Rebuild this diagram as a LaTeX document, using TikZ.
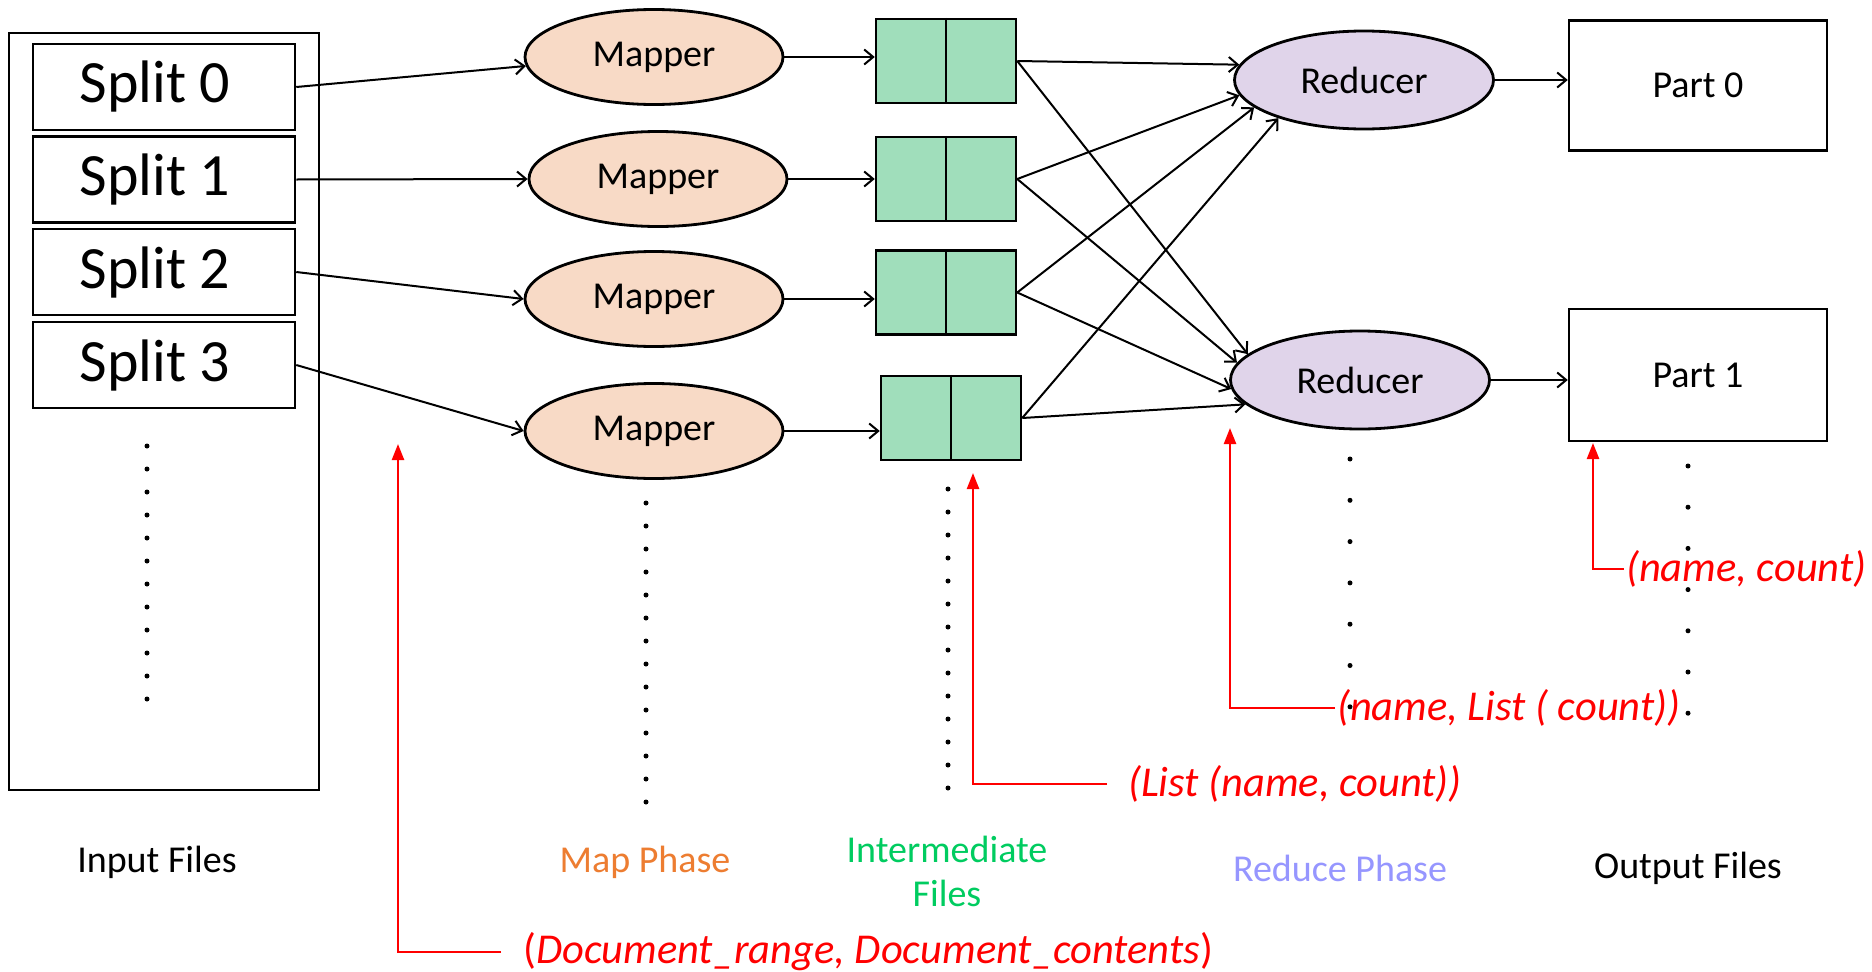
\documentclass[tikz,border=0pt]{standalone}
\usepackage{fontspec}
\setmainfont{Carlito}
\usetikzlibrary{shapes.geometric,arrows.meta,positioning}
\definecolor{mapperfill}{RGB}{248,218,198}
\definecolor{interfill}{RGB}{160,222,187}
\definecolor{reducerfill}{RGB}{224,212,234}
\definecolor{mapcolor}{RGB}{237,125,49}
\definecolor{intercolor}{RGB}{0,204,96}
\definecolor{reducecolor}{RGB}{150,150,255}
\definecolor{tracered}{RGB}{255,0,0}
\newcommand*{\kvinfo}[5][2]{%
  \node [tracetext, inner xsep=#1pt] (#2) at (#3) {#5};
  \draw [tracearrow] (#2.west) -| (#4);
}

\begin{document}
\begin{tikzpicture}[x=1pt,y=-1pt,
    every node/.style = {font=\fontsize{38}{44}\selectfont},
    splitbox/.style   = {draw, line width=2.5pt, minimum width=262pt, minimum height=86pt, inner sep=0pt, font=\fontsize{60}{70}\selectfont},
    mapper/.style     = {ellipse, draw, line width=2.8pt, fill=mapperfill, minimum width=258pt, minimum height=95pt, inner sep=0pt},
    reducer/.style    = {mapper, fill=reducerfill, minimum width=259pt, minimum height=98pt},
    interbox/.style   = {draw, line width=2.5pt, fill=interfill, minimum width=140pt, minimum height=84pt, inner sep=0pt},
    partbox/.style    = {draw, line width=2.5pt, minimum width=258pt, minimum height=130pt, inner sep=0pt},
    flow/.style       = {-{Straight Barb[length=9pt,width=15pt]}, line width=2pt},
    tracetext/.style  = {anchor=west, text=tracered, inner ysep=0pt, font=\fontsize{42.5}{50}\selectfont\itshape},
    tracearrow/.style = {-{Triangle[length=16pt,width=12pt]}, draw=tracered, line width=2.4pt},
  ]
  \fill[white] (0,0) rectangle (1872,972);
  \useasboundingbox (0,0) rectangle (1872,972);

  \node [draw, line width=2.5pt, minimum width=310pt, minimum height=757pt, inner sep=0pt] (inputs) at (164,411.5) {};
  \foreach \i/\y in {0/87,1/179.5,2/272,3/365}
    \node [splitbox] (s\i) at (164,\y) {Split \i\hspace*{18pt}};

  \foreach \i/\x/\y in {0/654/57,1/658/179,2/654/299,3/654/431}
    \node [mapper] (m\i) at (\x,\y) {Mapper};

  \foreach \i/\x/\y in {0/946/61,1/946/179,2/946/292.5,3/951/418}{
    \node [interbox] (i\i) at (\x,\y) {};
    \draw [line width=2.5pt] (i\i.north) -- (i\i.south);
  }

  \node [reducer] (r0) at (1364,80) {Reducer};
  \node [reducer] (r1) at (1360,380) {Reducer};
  \node [partbox] (p0) at (1698,85.5) {Part 0};
  \node [partbox, minimum height=132pt] (p1) at (1698,375) {Part 1};

  \foreach \i/\a in {0/184,1/180,2/180,3/180}{
    \draw [flow] (s\i.east) -- (m\i.\a);
    \draw [flow] (m\i.east) -- (m\i.east -| i\i.west);
  }
  \foreach \i/\a/\b in {0/173/167,1/187/172,2/194/184,3/204/192}{
    \draw [flow] (i\i.east) -- (r0.\a);
    \draw [flow] (i\i.east) -- (r1.\b);
  }
  \foreach \i in {0,1}
    \draw [flow] (r\i.east) -- (r\i.east -| p\i.west);

  \foreach \k in {0,...,11}
    \fill (147,446+23*\k) circle (2.5pt);
  \foreach \k in {0,...,13}{
    \fill (646,503+23*\k) circle (2.5pt);
    \fill (948,489+23*\k) circle (2.5pt);
  }
  \foreach \k in {0,...,6}{
    \fill (1350,459+41.3*\k) circle (2.5pt);
    \fill (1688,466+41.2*\k) circle (2.5pt);
  }

  \node (inlbl) at (157,862) {Input Files};
  \node [text=mapcolor] (maplbl) at (645,862) {Map Phase};
  \node [text=intercolor, align=center] (interlbl) at (947,871) {Intermediate\\Files};
  \node [text=reducecolor] (redlbl) at (1340,868) {Reduce Phase};
  \node (outlbl) at (1688,868) {Output Files};

  \coordinate (docT) at (398,444);
  \coordinate (listT) at (973,473);
  \coordinate (groupT) at (1230,428);
  \coordinate (pairT) at (1593,443);
  \kvinfo[22]{docN}{501,952}{docT}{{\upshape(}Document\_range, Document\_contents{\upshape)}}
  \kvinfo[21]{listN}{1107,784}{listT}{(List (name, count))}
  \kvinfo{groupN}{1335,708}{groupT}{(name, List ( count))}
  \kvinfo{pairN}{1624,569}{pairT}{(name, count)}
\end{tikzpicture}
\end{document}
